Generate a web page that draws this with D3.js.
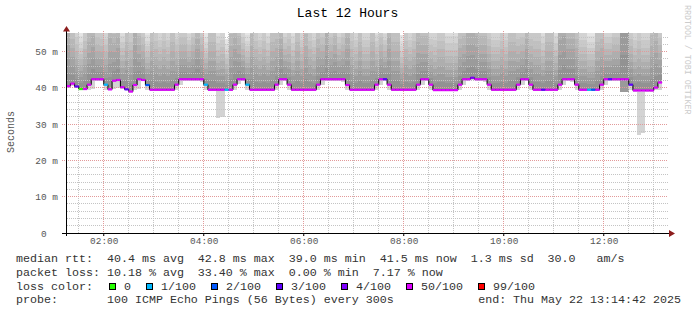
<!DOCTYPE html>
<html lang="en">
<head>
<meta charset="utf-8" />
<title>Last 12 Hours</title>
<script src="https://d3js.org/d3.v7.min.js"></script>
<style>
  body { margin: 0; background: #fff; }
  svg { display: block; }
  text { font-family: "Liberation Mono", "DejaVu Sans Mono", monospace; white-space: pre; }
</style>
</head>
<body>
<div id="chart"></div>
<script>
// one value per 5 minute step, starting 01:15
const median = [
  40.5, 41.2, 40.4, 39.7, 39.7, 40.9, 42.4, 42.4, 42.4, 40.9, 39.6, 42.0,
  42.2, 40.2, 39.6, 39.0, 40.8, 42.4, 42.2, 40.8, 39.5, 39.5, 39.5, 39.5,
  39.5, 39.5, 40.9, 42.4, 42.4, 42.4, 42.4, 42.4, 42.4, 40.9, 39.5, 39.5,
  39.5, 39.5, 39.5, 39.5, 40.9, 42.4, 42.4, 40.9, 39.5, 39.5, 39.5, 39.5,
  39.5, 39.5, 40.9, 42.4, 42.4, 40.9, 39.5, 39.5, 39.5, 39.5, 39.5, 39.5,
  40.9, 42.4, 42.4, 42.4, 42.4, 42.4, 42.4, 40.8, 39.5, 39.5, 39.5, 39.5,
  39.5, 39.5, 40.9, 42.4, 42.4, 40.9, 39.5, 39.5, 39.5, 39.5, 39.5, 39.5,
  40.9, 42.4, 42.4, 40.9, 39.4, 39.4, 39.4, 39.4, 39.4, 39.4, 40.9, 42.4,
  42.4, 42.8, 42.4, 42.4, 42.4, 40.9, 39.5, 39.5, 39.5, 39.5, 39.5, 39.5,
  40.9, 42.4, 42.4, 40.9, 39.5, 39.5, 39.5, 39.5, 39.5, 39.5, 40.9, 42.4,
  42.4, 42.4, 40.9, 39.5, 39.5, 39.5, 39.5, 39.5, 40.9, 42.4, 42.4, 42.4,
  42.4, 42.4, 42.4, 40.9, 39.3, 39.3, 39.3, 39.3, 39.3, 40.1, 41.5
];
// packet loss per step (%)
const loss = [
  8, 6, 3, 0, 7, 9, 12, 10, 8, 1, 14, 11,
  9, 6, 3, 8, 12, 10, 7, 2, 9, 11, 13, 8,
  10, 12, 9, 7, 11, 14, 10, 8, 9, 1, 12, 10,
  16, 14, 1, 9, 11, 8, 10, 1, 12, 9, 13, 10,
  8, 11, 9, 12, 10, 7, 13, 11, 9, 10, 12, 8,
  10, 9, 11, 13, 8, 10, 12, 9, 11, 10, 8, 13,
  9, 11, 10, 8, 3, 12, 10, 9, 14, 11, 8, 10,
  12, 9, 11, 10, 13, 8, 10, 12, 9, 11, 10, 14,
  12, 4, 10, 9, 11, 13, 8, 10, 12, 9, 11, 10,
  9, 12, 10, 8, 11, 9, 3, 12, 10, 13, 22, 18,
  14, 12, 10, 9, 11, 1, 2, 10, 12, 9, 3, 11,
  14, 33, 26, 3, 10, 15, 12, 9, 11, 10, 7
];
// highest ping of each step (ms), most go past the top of the graph
const smokeTop = [
  78, 66, 60, 56, 62, 70, 72, 62, 61, 59, 75, 68,
  72, 58, 66, 62, 78, 66, 62, 56, 66, 62, 59, 62,
  59, 66, 59, 62, 62, 58, 62, 70, 62, 55.5, 66, 66,
  58, 59, 53.6, 70, 74, 66, 59, 56, 70, 62, 59, 62,
  58, 66, 66, 70, 59, 62, 58, 66, 59, 70, 62, 59,
  66, 62, 74, 62, 66, 59, 62, 74, 62, 59, 66, 59,
  59, 66, 58, 62, 58, 74, 66, 66, 54.5, 62, 59, 62,
  70, 66, 66, 59, 59, 62, 62, 58, 58, 58, 66, 66,
  74, 74, 72, 66, 66, 62, 59, 59, 62, 59, 66, 66,
  62, 62, 70, 62, 62, 62, 58, 66, 66, 58, 82, 82,
  70, 70, 66, 59, 59, 56, 56, 66, 66, 59, 59, 62,
  62, 110, 110, 62, 59, 62, 59, 59, 70, 72, 62
];
// lowest ping of each step (ms)
const minPing = [
  40.0, 40.6, 39.9, 39.4, 39.4, 39.5, 39.6, 42.0, 42.0, 39.5, 39.3, 39.8,
  40.0, 39.6, 39.3, 38.8, 39.4, 39.8, 41.8, 39.5, 39.2, 39.2, 39.2, 39.2,
  39.2, 39.2, 39.4, 40.8, 42.0, 42.0, 42.0, 42.0, 41.6, 39.5, 39.2, 39.2,
  31.6, 31.9, 39.2, 39.2, 39.4, 41.0, 42.0, 39.5, 39.2, 39.2, 39.2, 39.2,
  39.2, 39.2, 39.4, 40.8, 41.8, 39.5, 39.2, 39.2, 39.2, 39.2, 39.2, 39.2,
  39.4, 40.8, 42.0, 42.0, 42.0, 42.0, 41.6, 39.5, 39.2, 39.2, 39.2, 39.2,
  39.2, 39.2, 39.4, 40.8, 41.8, 39.5, 39.2, 39.2, 39.2, 39.2, 39.2, 39.2,
  39.4, 40.8, 41.8, 39.5, 39.1, 39.1, 39.1, 39.1, 39.1, 39.1, 39.4, 40.8,
  42.0, 42.2, 42.0, 42.0, 41.6, 39.5, 39.2, 39.2, 39.2, 39.2, 39.2, 39.2,
  39.4, 40.8, 41.8, 39.5, 39.2, 39.2, 39.2, 39.2, 39.2, 39.2, 39.4, 40.8,
  42.0, 41.6, 39.5, 39.2, 39.2, 39.2, 39.2, 39.2, 39.4, 40.8, 42.0, 42.0,
  42.0, 38.8, 38.8, 39.4, 39.0, 26.9, 27.6, 39.0, 39.0, 39.4, 39.5
];

const yTicks = [0, 10, 20, 30, 40, 50];
const lossLabels = ["0", "1/100", "2/100", "3/100", "4/100", "50/100", "99/100"];
const lossLimits = [0, 1, 2, 3, 4, 50, 100];
const lossColors = ["#26ff00", "#00b8ff", "#0059ff", "#5e00ff", "#7e00ff", "#dd00ff", "#ff0000"];

const legendLines = [
  "median rtt:  40.4 ms avg  42.8 ms max  39.0 ms min  41.5 ms now  1.3 ms sd  30.0   am/s",
  "packet loss: 10.18 % avg  33.40 % max  0.00 % min  7.17 % now",
  "loss color:",
  "probe:       100 ICMP Echo Pings (56 Bytes) every 300s"
];
const endLabel = "end: Thu May 22 13:14:42 2025";

const width = 697, height = 315;
const svg = d3.select("#chart").append("svg")
  .attr("width", width)
  .attr("height", height);

const start = new Date(2025, 4, 22, 1, 14, 42);
const end = new Date(2025, 4, 22, 13, 14, 42);
const firstStep = new Date(2025, 4, 22, 1, 15, 0);
const STEP = 300 * 1000;

const x = d3.scaleTime().domain([start, end]).range([66, 666]);
const y = d3.scaleLinear().domain([0, 55.15]).range([233, 33]);
const px = v => Math.floor(v) + 0.5;

const steps = median.map((m, i) => ({
  t0: new Date(firstStep.getTime() + i * STEP),
  t1: new Date(firstStep.getTime() + (i + 1) * STEP),
  med: m,
  top: smokeTop[i],
  low: minPing[i],
  loss: loss[i]
}));

function lossColor(v) {
  const idx = lossLimits.findIndex(l => v <= l);
  return lossColors[idx < 0 ? lossColors.length - 1 : idx];
}

svg.append("clipPath").attr("id", "clip")
  .append("rect").attr("x", 67).attr("y", 33).attr("width", 600).attr("height", 200);

// smoke: bands from the median out to the highest ping, darker near the median
const N = 10;
const shade = d3.interpolateRgb("#929292", "#e5e5e5");
const gSmoke = svg.append("g").attr("clip-path", "url(#clip)").attr("shape-rendering", "crispEdges");
for (let k = N; k >= 1; k--) {
  gSmoke.append("g").selectAll("rect").data(steps).join("rect")
    .attr("x", d => x(d.t0))
    .attr("width", d => x(d.t1) - x(d.t0))
    .attr("y", d => y(d.med + (d.top - d.med) * k / N))
    .attr("height", d => y(d.med) - y(d.med + (d.top - d.med) * k / N))
    .attr("fill", shade((k - 1) / (N - 1)));
}
gSmoke.append("g").selectAll("rect").data(steps).join("rect")
  .attr("x", d => x(d.t0))
  .attr("width", d => x(d.t1) - x(d.t0))
  .attr("y", d => y(d.med))
  .attr("height", d => Math.max(0, y(d.low) - y(d.med)))
  .attr("fill", d => d.top > 100 ? "#9a9a9a" : "#d3d3d3");

// grid
const grid = svg.append("g").attr("shape-rendering", "crispEdges")
  .attr("stroke-dasharray", "1,1").attr("fill", "none");
const minorY = d3.range(2, 55, 2).filter(v => v % 10 !== 0);
grid.selectAll(".hmin").data(minorY).join("line").attr("class", "hmin")
  .attr("x1", 67).attr("x2", 668)
  .attr("y1", d => px(y(d))).attr("y2", d => px(y(d)))
  .attr("stroke", "#c4c4c4");
const majorT = d3.timeHour.every(2).range(start, end);
const minorT = d3.timeMinute.every(30).range(start, end).filter(t => !(t.getHours() % 2 === 0 && t.getMinutes() === 0));
grid.selectAll(".vmin").data(minorT).join("line").attr("class", "vmin")
  .attr("x1", d => px(x(d))).attr("x2", d => px(x(d)))
  .attr("y1", 233).attr("y2", 31)
  .attr("stroke", "#c4c4c4");
grid.selectAll(".hmaj").data(yTicks.filter(v => v > 0)).join("line").attr("class", "hmaj")
  .attr("x1", 62).attr("x2", 668)
  .attr("y1", d => px(y(d))).attr("y2", d => px(y(d)))
  .attr("stroke", "#e29a9a");
grid.selectAll(".vmaj").data(majorT).join("line").attr("class", "vmaj")
  .attr("x1", d => px(x(d))).attr("x2", d => px(x(d)))
  .attr("y1", 236).attr("y2", 31)
  .attr("stroke", "#e29a9a");

// median line, coloured by packet loss
const gLine = svg.append("g").attr("clip-path", "url(#clip)");
const linePts = steps.map(d => [d.t0, d.med]);
linePts.push([steps[steps.length - 1].t1, steps[steps.length - 1].med]);
gLine.append("path")
  .attr("d", d3.line().x(d => x(d[0])).y(d => y(d[1])).curve(d3.curveStepAfter)(linePts))
  .attr("fill", "none").attr("stroke", "#000").attr("stroke-width", 1);
gLine.selectAll("line").data(steps).join("line")
  .attr("x1", d => x(d.t0)).attr("x2", d => x(d.t1))
  .attr("y1", d => y(d.med)).attr("y2", d => y(d.med))
  .attr("stroke", d => lossColor(d.loss))
  .attr("stroke-width", 2.2);

// axes
const fmt = d3.timeFormat("%H:%M");
const gx = svg.append("g").attr("transform", "translate(0,233)")
  .call(d3.axisBottom(x).tickValues(majorT).tickFormat(fmt).tickSize(3).tickPadding(1));
gx.select(".domain").remove();
gx.selectAll(".tick line").attr("stroke", "#000").attr("transform", "translate(-0.5,0)");
gx.selectAll("text").attr("font-family", "Liberation Mono").attr("font-size", 9.45).attr("fill", "#555");

const gy = svg.append("g").attr("transform", "translate(66,0)")
  .call(d3.axisLeft(y).tickValues(yTicks)
    .tickFormat(v => v === 0 ? "0\u00a0\u00a0" : v + " m").tickSize(0).tickPadding(8));
gy.select(".domain").remove();
gy.selectAll("text").attr("font-family", "Liberation Mono").attr("font-size", 9.45).attr("fill", "#555");

svg.append("line").attr("x1", 62).attr("x2", 670).attr("y1", 233.5).attr("y2", 233.5)
  .attr("stroke", "#000").attr("shape-rendering", "crispEdges");
svg.append("line").attr("x1", 66.5).attr("x2", 66.5).attr("y1", 236).attr("y2", 31)
  .attr("stroke", "#000").attr("shape-rendering", "crispEdges");
svg.append("path").attr("d", "M63,31.5L70,31.5L66.5,26Z").attr("fill", "#8c1c1c");
svg.append("path").attr("d", "M669,230L669,237L675,233.5Z").attr("fill", "#8c1c1c");

// titles
svg.append("text").attr("x", 347.5).attr("y", 17).attr("text-anchor", "middle")
  .attr("font-size", 13).attr("fill", "#000").text("Last 12 Hours");
svg.append("text").attr("transform", "translate(13.5,132) rotate(-90)")
  .attr("text-anchor", "middle").attr("font-size", 10).attr("fill", "#555").text("Seconds");
svg.append("text").attr("transform", "translate(685,5) rotate(90)")
  .attr("font-size", 8.3).attr("fill", "#cccccc").text("RRDTOOL / TOBI OETIKER");

// legend
const legY = [262, 275.7, 289.5, 303];
svg.append("g").selectAll("text").data(legendLines).join("text")
  .attr("x", 16).attr("y", (d, i) => legY[i])
  .attr("font-size", 11.67).attr("fill", "#333")
  .text(d => d);
svg.append("text").attr("x", 681).attr("y", legY[3]).attr("text-anchor", "end")
  .attr("font-size", 11.67).attr("fill", "#333").text(endLabel);

const charW = 7;
let bx = 109;
const boxPos = lossLabels.map(l => { const p = bx; bx += (4 + l.length) * charW + 2; return p; });
const gLoss = svg.append("g");
gLoss.selectAll("rect").data(lossLabels).join("rect")
  .attr("x", (d, i) => boxPos[i] + 0.5).attr("y", 283.5)
  .attr("width", 6).attr("height", 6)
  .attr("fill", (d, i) => lossColors[i]).attr("stroke", "#000")
  .attr("shape-rendering", "crispEdges");
gLoss.selectAll("text").data(lossLabels).join("text")
  .attr("x", (d, i) => boxPos[i] + 15).attr("y", legY[2])
  .attr("font-size", 11.67).attr("fill", "#333").text(d => d);
</script>
</body>
</html>
